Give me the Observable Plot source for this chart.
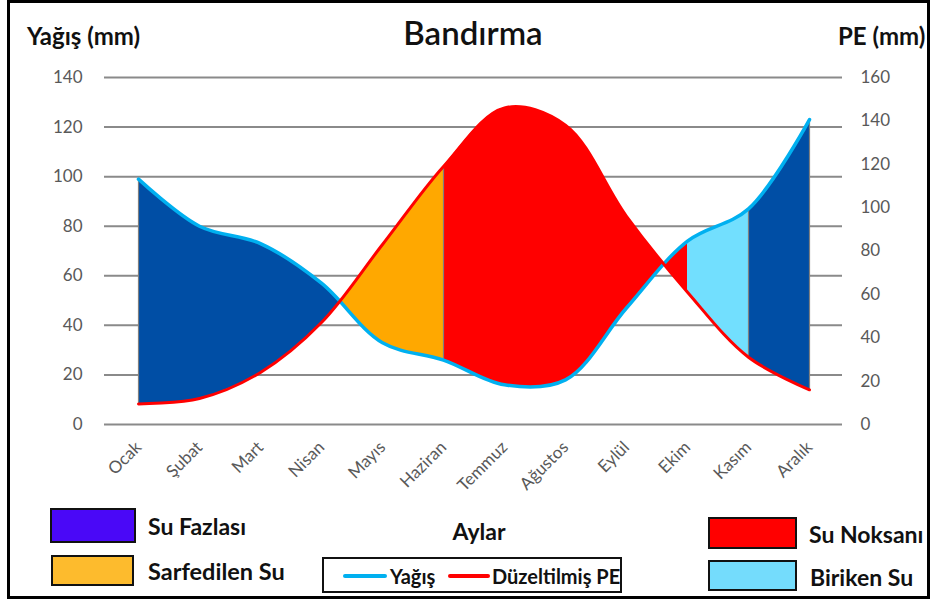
<!DOCTYPE html>
<html><head><meta charset="utf-8">
<script src="https://cdn.jsdelivr.net/npm/d3@7"></script>
<script src="https://cdn.jsdelivr.net/npm/@observablehq/plot@0.6"></script>
<style>
body{margin:0;width:932px;height:603px;overflow:hidden;background:#fff;font-family:Lato,"Open Sans",sans-serif;}
#page{position:relative;width:932px;height:603px;}
#frame{position:absolute;left:7px;top:0px;width:923px;height:599px;border:3px solid #000;box-sizing:border-box;pointer-events:none;}
.t{position:absolute;white-space:nowrap;color:#111;font-weight:bold;line-height:1;transform:translateY(-50%);}
.box{position:absolute;border:2px solid #111;box-sizing:border-box;}
.seg{position:absolute;height:4px;border-radius:2px;transform:translateY(-50%);}
#chart{position:absolute;left:0;top:60px;}
</style></head><body>
<div id="page">
 <div class="t" style="left:27px;top:36px;font-size:24px">Yağış (mm)</div>
 <div class="t" style="left:473px;top:32px;font-size:33px;font-weight:600;transform:translate(-50%,-50%)">Bandırma</div>
 <div class="t" style="left:838px;top:36px;font-size:24px">PE (mm)</div>
 <div id="chart"></div>
 <div class="box" id="bFazla" style="left:50px;top:508px;width:86px;height:35px"></div>
 <div class="t" id="tFazla" style="left:148px;top:526px;font-size:23px"></div>
 <div class="box" id="bSarf" style="left:51px;top:555px;width:83px;height:31px"></div>
 <div class="t" id="tSarf" style="left:148px;top:572px;font-size:23.5px"></div>
 <div class="t" style="left:479px;top:531px;font-size:23px;transform:translate(-50%,-50%)">Aylar</div>
 <div class="box" style="left:322px;top:557px;width:300px;height:36px"></div>
 <div class="seg" id="sYagis" style="left:343px;top:576px;width:44px"></div>
 <div class="t" id="tYagis" style="left:390px;top:576px;font-size:20px"></div>
 <div class="seg" id="sPE" style="left:448px;top:576px;width:42px"></div>
 <div class="t" id="tPE" style="left:492px;top:576px;font-size:20px"></div>
 <div class="box" id="bNoksan" style="left:708px;top:517px;width:89px;height:32px"></div>
 <div class="t" id="tNoksan" style="left:809px;top:534px;font-size:23px"></div>
 <div class="box" id="bBiriken" style="left:708px;top:560px;width:89px;height:31px"></div>
 <div class="t" id="tBiriken" style="left:810px;top:577px;font-size:23px"></div>
 <div id="frame"></div>
</div>
<script>
// ---- data ----
const months = ["Ocak","Şubat","Mart","Nisan","Mayıs","Haziran","Temmuz","Ağustos","Eylül","Ekim","Kasım","Aralık"];
const yagis = [99, 80, 73, 57, 33, 26, 16, 18, 47, 74, 87, 123];      // left axis, mm
const pe    = [9.5, 12, 24, 47, 83, 119, 146, 138, 96, 61, 31, 16];   // right axis, mm
const leftTicks  = [0, 20, 40, 60, 80, 100, 120, 140];
const rightTicks = [0, 20, 40, 60, 80, 100, 120, 140, 160];
const leftMax = 140, rightMax = 160;

// region categories (month ranges of each fill)
const regions = [
  {key:"fazla1",  from:"Ocak",    to:"Mayıs",   color:"#004ea5"},
  {key:"sarf",    from:"Nisan",   to:"Haziran", color:"#ffa800"},
  {key:"noksan",  from:"Haziran", to:"Ekim",    color:"#ff0000"},
  {key:"biriken", from:"Ekim",    to:"Kasım",   color:"#72dffe"},
  {key:"fazla2",  from:"Kasım",   to:"Aralık",  color:"#004ea5"}
];
const boundaryMonths = ["Ocak","Haziran","Kasım","Aralık"];
const legendSwatches = {bFazla:"#4a08f7", bSarf:"#fdbb2d", bNoksan:"#ff0000", bBiriken:"#74dcfc"};
const legendTexts = {tFazla:"Su Fazlası", tSarf:"Sarfedilen Su", tNoksan:"Su Noksanı", tBiriken:"Biriken Su", tYagis:"Yağış", tPE:"Düzeltilmiş PE"};
const lineColors = {yagis:"#00b0f0", pe:"#ff0000"};

const k = leftMax / rightMax;
const data = months.map((m, i) => ({month: m, yagis: yagis[i], pe: pe[i], peL: pe[i] * k}));
const curve = "catmull-rom";

const chart = Plot.plot({
  width: 932, height: 444,
  marginLeft: 104, marginRight: 90, marginTop: 17, marginBottom: 80,
  style: {fontFamily: "Lato, sans-serif", background: "transparent", overflow: "visible"},
  x: {type: "point", domain: months, padding: 0.5},
  y: {domain: [0, leftMax]},
  marks: [
    Plot.ruleY(leftTicks, {stroke: "#8a8a8a", strokeWidth: 2}),
    ...regions.map(r => Plot.areaY(data, {x: "month", y1: "peL", y2: "yagis", fill: r.color, curve, ariaDescription: "a-" + r.key})),
    Plot.areaY(data, {x: "month", y1: 0, y2: "peL", curve, fill: "black", ariaDescription: "clip-below"}),
    Plot.ruleX(data.filter(d => boundaryMonths.includes(d.month)), {x: "month", y1: "peL", y2: "yagis", stroke: "#7f7f7f", strokeWidth: 1.2}),
    Plot.line(data, {x: "month", y: "yagis", stroke: lineColors.yagis, strokeWidth: 3.5, curve}),
    Plot.line(data, {x: "month", y: "peL", stroke: lineColors.pe, strokeWidth: 3, curve}),
    Plot.axisY(leftTicks, {anchor: "left", tickSize: 0, tickPadding: 22, fontSize: 17, fill: "#595959", label: null}),
    Plot.axisY(rightTicks.map(v => v * k), {anchor: "right", tickSize: 0, tickPadding: 18, fontSize: 17, fill: "#595959", label: null, tickFormat: d => String(Math.round(d / k))}),
    Plot.axisX({tickRotate: -45, tickSize: 0, tickPadding: 20, fontSize: 17, fill: "#595959", label: null})
  ]
});
document.getElementById("chart").appendChild(chart);

// ---- clip the region fills to their month ranges ----
const ns = "http://www.w3.org/2000/svg";
const sx = chart.scale("x");
const svg = chart.tagName.toLowerCase() === "svg" ? chart : chart.querySelector("svg");
const areaGroups = Array.from(svg.querySelectorAll('g[aria-label="area"]'));
const findGroup = (desc, idx) => svg.querySelector('g[aria-description="' + desc + '"]') || areaGroups[idx];
const defs = document.createElementNS(ns, "defs");
svg.insertBefore(defs, svg.firstChild);
function addClip(id, el) {
  const cp = document.createElementNS(ns, "clipPath");
  cp.setAttribute("id", id); cp.appendChild(el); defs.appendChild(cp);
}
const below = findGroup("clip-below", regions.length);
const belowPath = document.createElementNS(ns, "path");
belowPath.setAttribute("d", below.querySelector("path").getAttribute("d"));
addClip("cp-below", belowPath);
regions.forEach((r, i) => {
  const x1 = sx.apply(r.from), x2 = sx.apply(r.to);
  const rc = document.createElementNS(ns, "rect");
  rc.setAttribute("x", x1); rc.setAttribute("width", x2 - x1);
  rc.setAttribute("y", 0); rc.setAttribute("height", 444);
  addClip("cp-" + r.key, rc);
  const g = findGroup("a-" + r.key, i);
  g.setAttribute("clip-path", "url(#cp-" + r.key + ")");
  if (r.key === "sarf") {
    const wrap = document.createElementNS(ns, "g");
    wrap.setAttribute("clip-path", "url(#cp-below)");
    g.parentNode.insertBefore(wrap, g);
    wrap.appendChild(g);
  }
});
below.remove();

// ---- legend ----
Object.entries(legendSwatches).forEach(([id, c]) => document.getElementById(id).style.background = c);
Object.entries(legendTexts).forEach(([id, t]) => document.getElementById(id).textContent = t);
document.getElementById("sYagis").style.background = lineColors.yagis;
document.getElementById("sPE").style.background = lineColors.pe;
</script>
</body></html>
